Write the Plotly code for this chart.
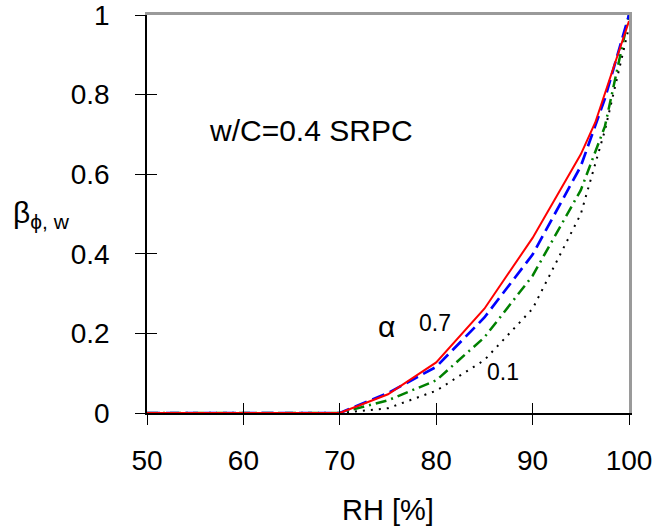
import plotly.graph_objects as go

# Relative humidity [%] sampled for each curve
rh = [50, 55, 60, 65, 70, 75, 80, 85, 90, 95, 97.5, 100]
rh_red = [50, 55, 60, 65, 70, 75, 80, 85, 90, 95, 96.5, 100]

# beta_phi,w for alpha = 0.7 ... 0.1
beta_07 = [0, 0, 0, 0, 0, 0.047, 0.127, 0.262, 0.44, 0.65, 0.73, 0.985]
beta_05 = [0, 0, 0, 0, 0, 0.050, 0.116, 0.240, 0.398, 0.620, 0.79, 1.0]
beta_03 = [0, 0, 0, 0, 0, 0.032, 0.082, 0.190, 0.345, 0.560, 0.72, 1.0]
beta_01 = [0, 0, 0, 0, 0, 0.012, 0.056, 0.133, 0.262, 0.500, 0.71, 0.97]

x_ticks = [50, 60, 70, 80, 90, 100]
y_ticks = [0, 0.2, 0.4, 0.6, 0.8, 1.0]

FONT = "Liberation Sans, Arial, sans-serif"

fig = go.Figure()

fig.add_trace(go.Scatter(x=rh, y=beta_01, mode="lines",
                         line=dict(color="#000000", width=2, dash="2px,6px")))
fig.add_trace(go.Scatter(x=rh, y=beta_03, mode="lines",
                         line=dict(color="#008000", width=2.5, dash="11px,5px,2px,5px")))
fig.add_trace(go.Scatter(x=rh, y=beta_05, mode="lines",
                         line=dict(color="#0000FF", width=2.7, dash="13px,6px")))
fig.add_trace(go.Scatter(x=rh_red, y=beta_07, mode="lines",
                         line=dict(color="#FF0000", width=2)))

# empty traces so the overlay axes (crossing ticks, grey frame) get drawn
fig.add_trace(go.Scatter(x=[None], y=[None], xaxis="x2", yaxis="y2", showlegend=False))
fig.add_trace(go.Scatter(x=[None], y=[None], xaxis="x3", yaxis="y3", showlegend=False))

axis_common = dict(showgrid=False, zeroline=False, automargin=False)

fig.update_layout(
    width=657, height=531,
    margin=dict(l=147, r=28, t=15, b=118),
    paper_bgcolor="white", plot_bgcolor="white",
    showlegend=False,
    font=dict(family=FONT, color="black", size=28),
    xaxis=dict(range=[50, 100], tickvals=x_ticks, ticks="outside", ticklen=10,
               tickwidth=1.3, tickcolor="black", showline=True, linecolor="black",
               linewidth=1.5, tickfont=dict(size=28), ticklabelstandoff=12,
               ticklabeloverflow="allow", **axis_common),
    yaxis=dict(range=[0, 1], tickvals=y_ticks, ticks="outside", ticklen=10,
               tickwidth=1.3, tickcolor="black", showline=True, linecolor="black",
               linewidth=1.5, tickfont=dict(size=28), ticklabelstandoff=20,
               ticklabeloverflow="allow", **axis_common),
    xaxis2=dict(range=[50, 100], tickvals=x_ticks, overlaying="x", anchor="y2",
                side="bottom", ticks="inside", ticklen=10, tickwidth=1.3,
                tickcolor="black", showticklabels=False, showline=False,
                **axis_common),
    yaxis2=dict(range=[0, 1], tickvals=y_ticks, overlaying="y", anchor="x2",
                side="left", ticks="inside", ticklen=10, tickwidth=1.3,
                tickcolor="black", showticklabels=False, showline=False,
                **axis_common),
    xaxis3=dict(range=[50, 100], overlaying="x", anchor="y3", side="top",
                showline=True, linecolor="#9a9a9a", linewidth=2.5, ticks="",
                showticklabels=False, **axis_common),
    yaxis3=dict(range=[0, 1], overlaying="y", anchor="x3", side="right",
                showline=True, linecolor="#9a9a9a", linewidth=2.5, ticks="",
                showticklabels=False, **axis_common),
)

annotations = [
    dict(text="w/C=0.4 SRPC", x=67.0, y=0.71, xref="x", yref="y",
         showarrow=False, font=dict(size=30)),
    dict(text="α", x=74.8, y=0.217, xref="x", yref="y",
         showarrow=False, font=dict(size=30)),
    dict(text="0.7", x=79.85, y=0.225, xref="x", yref="y",
         showarrow=False, font=dict(size=23)),
    dict(text="0.1", x=86.95, y=0.104, xref="x", yref="y",
         showarrow=False, font=dict(size=23)),
    dict(text="RH [%]", x=75, y=-0.244, xref="x", yref="paper",
         showarrow=False, yanchor="middle", font=dict(size=29)),
    dict(text="β<sub>ϕ, w</sub>", x=-0.218, y=0.5, xref="paper", yref="paper",
         showarrow=False, yanchor="middle", xanchor="center", font=dict(size=30)),
]
fig.update_layout(annotations=annotations)

fig.write_html("out.html")
